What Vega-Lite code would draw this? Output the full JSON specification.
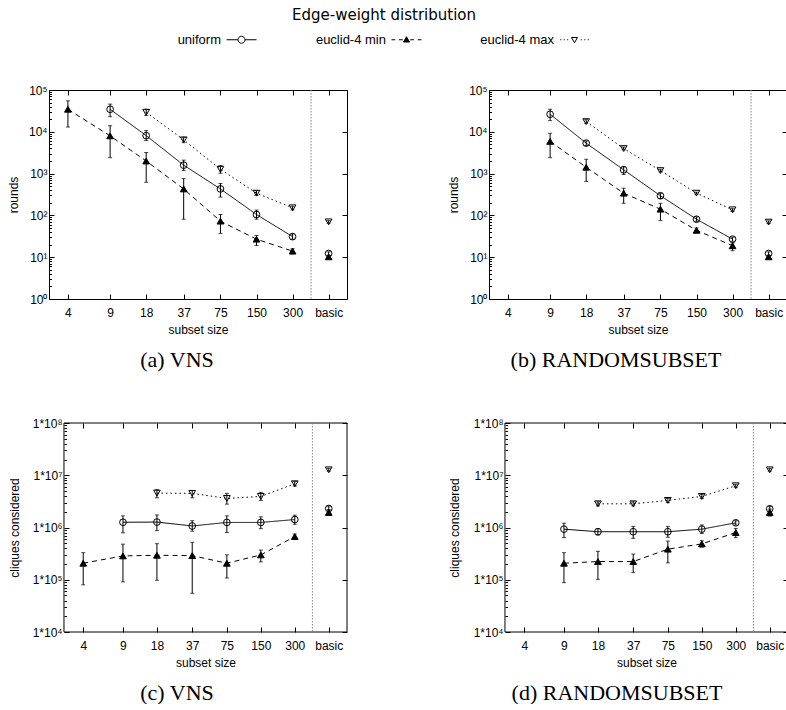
{
  "$schema": "https://vega.github.io/schema/vega-lite/v6.json",
  "padding": {"left": 6, "top": 8, "right": 0, "bottom": 0},
  "background": "white",
  "config": {
    "view": {"stroke": "black", "strokeWidth": 1},
    "font": "Liberation Sans",
    "axis": {"grid": false, "domain": false, "tickColor": "black", "labelColor": "black", "titleColor": "black", "labelFont": "Liberation Sans", "titleFont": "Liberation Sans", "labelFontSize": 12, "titleFontSize": 12, "titleFontWeight": "normal", "tickSize": -5, "labelFlush": false, "labelOverlap": false, "labelBound": false}
  },
  "datasets": {
    "pts": [
      {"p":"a","d":"uniform","s":9,"v":34600,"lo":23000,"hi":46000},
      {"p":"a","d":"uniform","s":18,"v":8100,"lo":6200,"hi":10700},
      {"p":"a","d":"uniform","s":37,"v":1590,"lo":1180,"hi":2100},
      {"p":"a","d":"uniform","s":75,"v":430,"lo":274,"hi":580},
      {"p":"a","d":"uniform","s":150,"v":105,"lo":81,"hi":134},
      {"p":"a","d":"uniform","s":300,"v":31,"lo":27,"hi":36},
      {"p":"a","d":"uniform","s":600,"v":12.3,"lo":11,"hi":13.5},
      {"p":"a","d":"euclid-4 min","s":4,"v":34600,"lo":13000,"hi":55000},
      {"p":"a","d":"euclid-4 min","s":9,"v":8000,"lo":2400,"hi":14000},
      {"p":"a","d":"euclid-4 min","s":18,"v":2000,"lo":620,"hi":3200},
      {"p":"a","d":"euclid-4 min","s":37,"v":430,"lo":81,"hi":760},
      {"p":"a","d":"euclid-4 min","s":75,"v":73,"lo":37,"hi":105},
      {"p":"a","d":"euclid-4 min","s":150,"v":27,"lo":19,"hi":33},
      {"p":"a","d":"euclid-4 min","s":300,"v":14,"lo":12,"hi":16},
      {"p":"a","d":"euclid-4 min","s":600,"v":10.2,"lo":9.5,"hi":11},
      {"p":"a","d":"euclid-4 max","s":18,"v":29300,"lo":24500,"hi":34600},
      {"p":"a","d":"euclid-4 max","s":37,"v":6400,"lo":5500,"hi":7400},
      {"p":"a","d":"euclid-4 max","s":75,"v":1270,"lo":1020,"hi":1560},
      {"p":"a","d":"euclid-4 max","s":150,"v":340,"lo":300,"hi":390},
      {"p":"a","d":"euclid-4 max","s":300,"v":152,"lo":135,"hi":165},
      {"p":"a","d":"euclid-4 max","s":600,"v":70,"lo":65,"hi":75},

      {"p":"b","d":"uniform","s":9,"v":26300,"lo":18500,"hi":34600},
      {"p":"b","d":"uniform","s":18,"v":5350,"lo":4700,"hi":6000},
      {"p":"b","d":"uniform","s":37,"v":1230,"lo":950,"hi":1480},
      {"p":"b","d":"uniform","s":75,"v":295,"lo":255,"hi":340},
      {"p":"b","d":"uniform","s":150,"v":81,"lo":72,"hi":92},
      {"p":"b","d":"uniform","s":300,"v":27,"lo":24,"hi":30},
      {"p":"b","d":"uniform","s":600,"v":12.3,"lo":11,"hi":13.5},
      {"p":"b","d":"euclid-4 min","s":9,"v":5900,"lo":2400,"hi":9200},
      {"p":"b","d":"euclid-4 min","s":18,"v":1420,"lo":650,"hi":2200},
      {"p":"b","d":"euclid-4 min","s":37,"v":340,"lo":195,"hi":447},
      {"p":"b","d":"euclid-4 min","s":75,"v":141,"lo":75,"hi":195},
      {"p":"b","d":"euclid-4 min","s":150,"v":44,"lo":39,"hi":50},
      {"p":"b","d":"euclid-4 min","s":300,"v":18.8,"lo":14.3,"hi":21.8},
      {"p":"b","d":"euclid-4 min","s":600,"v":10.2,"lo":9.5,"hi":11},
      {"p":"b","d":"euclid-4 max","s":18,"v":17500,"lo":16000,"hi":19500},
      {"p":"b","d":"euclid-4 max","s":37,"v":3970,"lo":3700,"hi":4300},
      {"p":"b","d":"euclid-4 max","s":75,"v":1180,"lo":1100,"hi":1270},
      {"p":"b","d":"euclid-4 max","s":150,"v":340,"lo":320,"hi":360},
      {"p":"b","d":"euclid-4 max","s":300,"v":136,"lo":125,"hi":145},
      {"p":"b","d":"euclid-4 max","s":600,"v":69,"lo":64,"hi":74},

      {"p":"c","d":"uniform","s":9,"v":1260000,"lo":790000,"hi":1670000},
      {"p":"c","d":"uniform","s":18,"v":1270000,"lo":870000,"hi":1740000},
      {"p":"c","d":"uniform","s":37,"v":1070000,"lo":850000,"hi":1350000},
      {"p":"c","d":"uniform","s":75,"v":1250000,"lo":800000,"hi":1670000},
      {"p":"c","d":"uniform","s":150,"v":1250000,"lo":950000,"hi":1600000},
      {"p":"c","d":"uniform","s":300,"v":1420000,"lo":1150000,"hi":1720000},
      {"p":"c","d":"uniform","s":600,"v":2310000,"lo":2100000,"hi":2550000},
      {"p":"c","d":"euclid-4 min","s":4,"v":207000,"lo":80000,"hi":330000},
      {"p":"c","d":"euclid-4 min","s":9,"v":286000,"lo":91000,"hi":480000},
      {"p":"c","d":"euclid-4 min","s":18,"v":294000,"lo":98000,"hi":490000},
      {"p":"c","d":"euclid-4 min","s":37,"v":290000,"lo":55000,"hi":520000},
      {"p":"c","d":"euclid-4 min","s":75,"v":207000,"lo":108000,"hi":300000},
      {"p":"c","d":"euclid-4 min","s":150,"v":299000,"lo":220000,"hi":370000},
      {"p":"c","d":"euclid-4 min","s":300,"v":670000,"lo":590000,"hi":750000},
      {"p":"c","d":"euclid-4 min","s":600,"v":1940000,"lo":1700000,"hi":2200000},
      {"p":"c","d":"euclid-4 max","s":18,"v":4550000,"lo":3700000,"hi":5300000},
      {"p":"c","d":"euclid-4 max","s":37,"v":4500000,"lo":3700000,"hi":5100000},
      {"p":"c","d":"euclid-4 max","s":75,"v":3600000,"lo":2800000,"hi":4500000},
      {"p":"c","d":"euclid-4 max","s":150,"v":3930000,"lo":3300000,"hi":4700000},
      {"p":"c","d":"euclid-4 max","s":300,"v":6870000,"lo":6200000,"hi":7600000},
      {"p":"c","d":"euclid-4 max","s":600,"v":12700000,"lo":12000000,"hi":13500000},

      {"p":"d","d":"uniform","s":9,"v":930000,"lo":640000,"hi":1210000},
      {"p":"d","d":"uniform","s":18,"v":830000,"lo":720000,"hi":950000},
      {"p":"d","d":"uniform","s":37,"v":830000,"lo":620000,"hi":1050000},
      {"p":"d","d":"uniform","s":75,"v":830000,"lo":650000,"hi":1050000},
      {"p":"d","d":"uniform","s":150,"v":930000,"lo":770000,"hi":1120000},
      {"p":"d","d":"uniform","s":300,"v":1230000,"lo":1120000,"hi":1350000},
      {"p":"d","d":"uniform","s":600,"v":2280000,"lo":2050000,"hi":2550000},
      {"p":"d","d":"euclid-4 min","s":9,"v":207000,"lo":88000,"hi":330000},
      {"p":"d","d":"euclid-4 min","s":18,"v":223000,"lo":102000,"hi":350000},
      {"p":"d","d":"euclid-4 min","s":37,"v":223000,"lo":137000,"hi":310000},
      {"p":"d","d":"euclid-4 min","s":75,"v":385000,"lo":210000,"hi":550000},
      {"p":"d","d":"euclid-4 min","s":150,"v":486000,"lo":420000,"hi":560000},
      {"p":"d","d":"euclid-4 min","s":300,"v":800000,"lo":640000,"hi":960000},
      {"p":"d","d":"euclid-4 min","s":600,"v":1940000,"lo":1650000,"hi":2250000},
      {"p":"d","d":"euclid-4 max","s":18,"v":2840000,"lo":2600000,"hi":3100000},
      {"p":"d","d":"euclid-4 max","s":37,"v":2840000,"lo":2600000,"hi":3100000},
      {"p":"d","d":"euclid-4 max","s":75,"v":3300000,"lo":3000000,"hi":3600000},
      {"p":"d","d":"euclid-4 max","s":150,"v":3930000,"lo":3600000,"hi":4300000},
      {"p":"d","d":"euclid-4 max","s":300,"v":6300000,"lo":5900000,"hi":6700000},
      {"p":"d","d":"euclid-4 max","s":600,"v":12700000,"lo":12000000,"hi":13500000}
    ]
  },
  "resolve": {"scale": {"x": "independent", "y": "independent", "shape": "independent", "fill": "independent", "strokeDash": "independent"}, "legend": {"shape": "independent", "fill": "independent", "strokeDash": "independent"}},
  "spacing": 32,
  "vconcat": [
    {
      "width": 300, "height": 28,
      "view": {"stroke": null},
      "title": {"text": "Edge-weight distribution", "anchor": "middle", "frame": "group", "dx": 185, "offset": 0, "font": "DejaVu Sans", "fontSize": 15, "fontWeight": "normal", "color": "black"},
      "data": {"values": [{"d": "uniform"}, {"d": "euclid-4 min"}, {"d": "euclid-4 max"}]},
      "mark": {"type": "point", "opacity": 0, "stroke": "black", "strokeWidth": 1},
      "encoding": {
        "shape": {"field": "d", "type": "nominal", "scale": {"domain": ["uniform", "euclid-4 min", "euclid-4 max"], "range": ["M-1,0H-0.233M0.233,0H1M0.233,0A0.233,0.233,0,1,1,-0.233,0A0.233,0.233,0,1,1,0.233,0", "M-1,0H-0.75M-0.5,0H-0.25M0.25,0H0.5M0.75,0H1M0,-0.2L0.2,0.15L-0.2,0.15Z", "M-0.95,0H-0.88M-0.72,0H-0.65M-0.49,0H-0.42M0.42,0H0.49M0.65,0H0.72M0.88,0H0.95M-0.2,-0.15L0.2,-0.15L0,0.2Z"]},
          "legend": {"title": null, "orient": "none", "legendX": 177, "legendY": 1, "direction": "horizontal", "labelFont": "Liberation Sans", "labelFontSize": 13, "labelColor": "black", "labelAlign": "right", "labelOffset": -36, "symbolSize": 900, "symbolStrokeWidth": 1, "symbolStrokeColor": "black", "symbolOpacity": 1, "columnPadding": 56,
            "encode": {"symbols": {"update": {"stroke": {"value": "black"}, "strokeWidth": {"value": 1}, "opacity": {"value": 1}, "strokeOpacity": {"value": 1}}}}}},
        "fill": {"field": "d", "type": "nominal", "scale": {"domain": ["uniform", "euclid-4 min", "euclid-4 max"], "range": ["transparent", "black", "transparent"]},
          "legend": {"title": null, "orient": "none", "legendX": 177, "legendY": 1, "direction": "horizontal", "labelFont": "Liberation Sans", "labelFontSize": 13, "labelColor": "black", "labelAlign": "right", "labelOffset": -36, "symbolSize": 900, "symbolStrokeWidth": 1, "symbolStrokeColor": "black", "symbolOpacity": 1, "columnPadding": 56,
            "encode": {"symbols": {"update": {"stroke": {"value": "black"}, "strokeWidth": {"value": 1}, "opacity": {"value": 1}, "strokeOpacity": {"value": 1}}}}}}
      }
    },
    {
      "spacing": 45,
      "columns": 1,
      "align": "none",
      "resolve": {"scale": {"x": "independent", "y": "independent"}},
      "concat": [
        {
          "spacing": 98,
          "hconcat": [
            {
              "width": 298, "height": 209,
              "data": {"name": "pts"},
              "transform": [{"filter": "datum.p == 'a'"}],
              "title": {"text": "(a) VNS", "orient": "bottom", "anchor": "middle", "frame": "group", "dx": -21, "offset": 15, "font": "Liberation Serif", "fontSize": 22, "fontWeight": "normal", "color": "black"},
              "layer": [
                {"mark": {"type": "rule", "color": "black", "strokeWidth": 1},
                 "encoding": {
                   "x": {"field": "s", "type": "quantitative", "scale": {"type": "log", "domain": [2.78, 854], "nice": false}, "axis": {"orient": "bottom", "values": [4, 9, 18, 37, 75, 150, 300, 600], "labelExpr": "datum.value == 600 ? 'basic' : format(datum.value, 'd')", "title": "subset size", "labelPadding": 13, "titlePadding": 6}},
                   "y": {"field": "lo", "type": "quantitative", "scale": {"type": "log", "domain": [1, 100000], "nice": false}, "axis": {"orient": "left", "values": [1, 10, 100, 1000, 10000, 100000], "labelExpr": "'10' + ['⁰','¹','²','³','⁴','⁵','⁶','⁷','⁸'][round(log(datum.value)/LN10)]", "title": "rounds", "titleX": -36, "titleBaseline": "middle", "labelPadding": 7}},
                   "y2": {"field": "hi"}}},
                {"data": {"values": [{"p": "a"}]},
                 "mark": {"type": "rule", "color": "#888", "strokeDash": [1.5, 1.5], "strokeWidth": 1},
                 "encoding": {"x": {"datum": 428, "type": "quantitative", "axis": null}}},
                {"mark": {"type": "tick", "orient": "horizontal", "size": 4, "thickness": 1, "color": "black"},
                 "encoding": {
                   "x": {"field": "s", "type": "quantitative", "axis": {"orient": "top", "values": [4, 9, 18, 37, 75, 150, 300, 600], "labels": false, "title": null}},
                   "y": {"field": "lo", "type": "quantitative", "axis": {"orient": "right", "values": [1, 10, 100, 1000, 10000, 100000], "labels": false, "title": null}}}},
                {"mark": {"type": "tick", "orient": "horizontal", "size": 4, "thickness": 1, "color": "black"},
                 "encoding": {
                   "x": {"field": "s", "type": "quantitative", "axis": null},
                   "y": {"field": "hi", "type": "quantitative", "axis": {"orient": "left", "values": [2,3,4,5,6,7,8,9,20,30,40,50,60,70,80,90,200,300,400,500,600,700,800,900,2000,3000,4000,5000,6000,7000,8000,9000,20000,30000,40000,50000,60000,70000,80000,90000], "labels": false, "title": null, "tickSize": -2.5}}}},
                {"transform": [{"filter": "datum.s < 500"}],
                 "mark": {"type": "line", "color": "black", "strokeWidth": 1},
                 "encoding": {
                   "x": {"field": "s", "type": "quantitative", "axis": null},
                   "y": {"field": "v", "type": "quantitative", "axis": null},
                   "strokeDash": {"field": "d", "type": "nominal", "scale": {"domain": ["uniform", "euclid-4 min", "euclid-4 max"], "range": [[1, 0], [5, 4], [1.5, 3]]}, "legend": null}}},
                {"mark": {"type": "point", "stroke": "black", "strokeWidth": 1, "size": 45, "opacity": 1},
                 "encoding": {
                   "x": {"field": "s", "type": "quantitative", "axis": null},
                   "y": {"field": "v", "type": "quantitative", "axis": null},
                   "shape": {"field": "d", "type": "nominal", "scale": {"domain": ["uniform", "euclid-4 min", "euclid-4 max"], "range": ["circle", "triangle-up", "triangle-down"]}, "legend": null},
                   "fill": {"field": "d", "type": "nominal", "scale": {"domain": ["uniform", "euclid-4 min", "euclid-4 max"], "range": ["transparent", "black", "transparent"]}, "legend": null}}}
              ]
            },
            {
              "width": 298, "height": 209,
              "data": {"name": "pts"},
              "transform": [{"filter": "datum.p == 'b'"}],
              "title": {"text": "(b) RANDOMSUBSET", "orient": "bottom", "anchor": "middle", "frame": "group", "dx": -22, "offset": 15, "font": "Liberation Serif", "fontSize": 22, "fontWeight": "normal", "color": "black"},
              "layer": [
                {"mark": {"type": "rule", "color": "black", "strokeWidth": 1},
                 "encoding": {
                   "x": {"field": "s", "type": "quantitative", "scale": {"type": "log", "domain": [2.78, 854], "nice": false}, "axis": {"orient": "bottom", "values": [4, 9, 18, 37, 75, 150, 300, 600], "labelExpr": "datum.value == 600 ? 'basic' : format(datum.value, 'd')", "title": "subset size", "labelPadding": 13, "titlePadding": 6}},
                   "y": {"field": "lo", "type": "quantitative", "scale": {"type": "log", "domain": [1, 100000], "nice": false}, "axis": {"orient": "left", "values": [1, 10, 100, 1000, 10000, 100000], "labelExpr": "'10' + ['⁰','¹','²','³','⁴','⁵','⁶','⁷','⁸'][round(log(datum.value)/LN10)]", "title": "rounds", "titleX": -36, "titleBaseline": "middle", "labelPadding": 7}},
                   "y2": {"field": "hi"}}},
                {"data": {"values": [{"p": "b"}]},
                 "mark": {"type": "rule", "color": "#888", "strokeDash": [1.5, 1.5], "strokeWidth": 1},
                 "encoding": {"x": {"datum": 428, "type": "quantitative", "axis": null}}},
                {"mark": {"type": "tick", "orient": "horizontal", "size": 4, "thickness": 1, "color": "black"},
                 "encoding": {
                   "x": {"field": "s", "type": "quantitative", "axis": {"orient": "top", "values": [4, 9, 18, 37, 75, 150, 300, 600], "labels": false, "title": null}},
                   "y": {"field": "lo", "type": "quantitative", "axis": {"orient": "right", "values": [1, 10, 100, 1000, 10000, 100000], "labels": false, "title": null}}}},
                {"mark": {"type": "tick", "orient": "horizontal", "size": 4, "thickness": 1, "color": "black"},
                 "encoding": {
                   "x": {"field": "s", "type": "quantitative", "axis": null},
                   "y": {"field": "hi", "type": "quantitative", "axis": {"orient": "left", "values": [2,3,4,5,6,7,8,9,20,30,40,50,60,70,80,90,200,300,400,500,600,700,800,900,2000,3000,4000,5000,6000,7000,8000,9000,20000,30000,40000,50000,60000,70000,80000,90000], "labels": false, "title": null, "tickSize": -2.5}}}},
                {"transform": [{"filter": "datum.s < 500"}],
                 "mark": {"type": "line", "color": "black", "strokeWidth": 1},
                 "encoding": {
                   "x": {"field": "s", "type": "quantitative", "axis": null},
                   "y": {"field": "v", "type": "quantitative", "axis": null},
                   "strokeDash": {"field": "d", "type": "nominal", "scale": {"domain": ["uniform", "euclid-4 min", "euclid-4 max"], "range": [[1, 0], [5, 4], [1.5, 3]]}, "legend": null}}},
                {"mark": {"type": "point", "stroke": "black", "strokeWidth": 1, "size": 45, "opacity": 1},
                 "encoding": {
                   "x": {"field": "s", "type": "quantitative", "axis": null},
                   "y": {"field": "v", "type": "quantitative", "axis": null},
                   "shape": {"field": "d", "type": "nominal", "scale": {"domain": ["uniform", "euclid-4 min", "euclid-4 max"], "range": ["circle", "triangle-up", "triangle-down"]}, "legend": null},
                   "fill": {"field": "d", "type": "nominal", "scale": {"domain": ["uniform", "euclid-4 min", "euclid-4 max"], "range": ["transparent", "black", "transparent"]}, "legend": null}}}
              ]
            }
          ]
        },
        {
          "spacing": 100,
          "hconcat": [
            {
              "width": 298, "height": 209,
              "view": {"stroke": null},
              "data": {"name": "pts"},
              "transform": [{"filter": "datum.p == 'c'"}],
              "title": {"text": "(c) VNS", "orient": "bottom", "anchor": "middle", "frame": "group", "dx": -21, "offset": 15, "font": "Liberation Serif", "fontSize": 22, "fontWeight": "normal", "color": "black"},
              "layer": [
                {"mark": {"type": "rule", "color": "black", "strokeWidth": 1},
                 "encoding": {
                   "x": {"field": "s", "type": "quantitative", "scale": {"type": "log", "domain": [1.989, 871], "nice": false}, "axis": {"orient": "bottom", "values": [4, 9, 18, 37, 75, 150, 300, 600], "labelExpr": "datum.value == 600 ? 'basic' : format(datum.value, 'd')", "title": "subset size", "titleX": 156.5, "labelPadding": 13, "titlePadding": 6}},
                   "y": {"field": "lo", "type": "quantitative", "scale": {"type": "log", "domain": [10000, 100000000], "nice": false}, "axis": {"orient": "left", "offset": -15, "values": [10000, 100000, 1000000, 10000000, 100000000], "labelExpr": "'1*10' + ['⁰','¹','²','³','⁴','⁵','⁶','⁷','⁸'][round(log(datum.value)/LN10)]", "title": "cliques considered", "titleX": -50, "titleBaseline": "middle", "labelPadding": 7}},
                   "y2": {"field": "hi"}}},
                {"data": {"values": [{"p": "c"}]},
                 "mark": {"type": "rect", "fill": "transparent", "stroke": "black", "strokeWidth": 1},
                 "encoding": {"x": {"datum": 2.7, "type": "quantitative", "axis": null}, "x2": {"datum": 871}, "y": {"datum": 10000, "type": "quantitative", "axis": null}, "y2": {"datum": 100000000}}},
                {"data": {"values": [{"p": "c"}]},
                 "mark": {"type": "rule", "color": "#888", "strokeDash": [1.5, 1.5], "strokeWidth": 1},
                 "encoding": {"x": {"datum": 430, "type": "quantitative", "axis": null}}},
                {"mark": {"type": "tick", "orient": "horizontal", "size": 4, "thickness": 1, "color": "black"},
                 "encoding": {
                   "x": {"field": "s", "type": "quantitative", "axis": {"orient": "top", "values": [4, 9, 18, 37, 75, 150, 300, 600], "labels": false, "title": null}},
                   "y": {"field": "lo", "type": "quantitative", "axis": {"orient": "right", "values": [10000, 100000, 1000000, 10000000, 100000000], "labels": false, "title": null}}}},
                {"mark": {"type": "tick", "orient": "horizontal", "size": 4, "thickness": 1, "color": "black"},
                 "encoding": {
                   "x": {"field": "s", "type": "quantitative", "axis": null},
                   "y": {"field": "hi", "type": "quantitative", "axis": {"orient": "left", "offset": -15, "values": [20000,30000,40000,50000,60000,70000,80000,90000,200000,300000,400000,500000,600000,700000,800000,900000,2000000,3000000,4000000,5000000,6000000,7000000,8000000,9000000,20000000,30000000,40000000,50000000,60000000,70000000,80000000,90000000], "labels": false, "title": null, "tickSize": -2.5}}}},
                {"transform": [{"filter": "datum.s < 500"}],
                 "mark": {"type": "line", "color": "black", "strokeWidth": 1},
                 "encoding": {
                   "x": {"field": "s", "type": "quantitative", "axis": null},
                   "y": {"field": "v", "type": "quantitative", "axis": null},
                   "strokeDash": {"field": "d", "type": "nominal", "scale": {"domain": ["uniform", "euclid-4 min", "euclid-4 max"], "range": [[1, 0], [5, 4], [1.5, 3]]}, "legend": null}}},
                {"mark": {"type": "point", "stroke": "black", "strokeWidth": 1, "size": 45, "opacity": 1},
                 "encoding": {
                   "x": {"field": "s", "type": "quantitative", "axis": null},
                   "y": {"field": "v", "type": "quantitative", "axis": null},
                   "shape": {"field": "d", "type": "nominal", "scale": {"domain": ["uniform", "euclid-4 min", "euclid-4 max"], "range": ["circle", "triangle-up", "triangle-down"]}, "legend": null},
                   "fill": {"field": "d", "type": "nominal", "scale": {"domain": ["uniform", "euclid-4 min", "euclid-4 max"], "range": ["transparent", "black", "transparent"]}, "legend": null}}}
              ]
            },
            {
              "width": 298, "height": 209,
              "view": {"stroke": null},
              "data": {"name": "pts"},
              "transform": [{"filter": "datum.p == 'd'"}],
              "title": {"text": "(d) RANDOMSUBSET", "orient": "bottom", "anchor": "middle", "frame": "group", "dx": -22, "offset": 15, "font": "Liberation Serif", "fontSize": 22, "fontWeight": "normal", "color": "black"},
              "layer": [
                {"mark": {"type": "rule", "color": "black", "strokeWidth": 1},
                 "encoding": {
                   "x": {"field": "s", "type": "quantitative", "scale": {"type": "log", "domain": [1.989, 871], "nice": false}, "axis": {"orient": "bottom", "values": [4, 9, 18, 37, 75, 150, 300, 600], "labelExpr": "datum.value == 600 ? 'basic' : format(datum.value, 'd')", "title": "subset size", "titleX": 156.5, "labelPadding": 13, "titlePadding": 6}},
                   "y": {"field": "lo", "type": "quantitative", "scale": {"type": "log", "domain": [10000, 100000000], "nice": false}, "axis": {"orient": "left", "offset": -15, "values": [10000, 100000, 1000000, 10000000, 100000000], "labelExpr": "'1*10' + ['⁰','¹','²','³','⁴','⁵','⁶','⁷','⁸'][round(log(datum.value)/LN10)]", "title": "cliques considered", "titleX": -51, "titleBaseline": "middle", "labelPadding": 7}},
                   "y2": {"field": "hi"}}},
                {"data": {"values": [{"p": "d"}]},
                 "mark": {"type": "rect", "fill": "transparent", "stroke": "black", "strokeWidth": 1},
                 "encoding": {"x": {"datum": 2.7, "type": "quantitative", "axis": null}, "x2": {"datum": 871}, "y": {"datum": 10000, "type": "quantitative", "axis": null}, "y2": {"datum": 100000000}}},
                {"data": {"values": [{"p": "d"}]},
                 "mark": {"type": "rule", "color": "#888", "strokeDash": [1.5, 1.5], "strokeWidth": 1},
                 "encoding": {"x": {"datum": 430, "type": "quantitative", "axis": null}}},
                {"mark": {"type": "tick", "orient": "horizontal", "size": 4, "thickness": 1, "color": "black"},
                 "encoding": {
                   "x": {"field": "s", "type": "quantitative", "axis": {"orient": "top", "values": [4, 9, 18, 37, 75, 150, 300, 600], "labels": false, "title": null}},
                   "y": {"field": "lo", "type": "quantitative", "axis": {"orient": "right", "values": [10000, 100000, 1000000, 10000000, 100000000], "labels": false, "title": null}}}},
                {"mark": {"type": "tick", "orient": "horizontal", "size": 4, "thickness": 1, "color": "black"},
                 "encoding": {
                   "x": {"field": "s", "type": "quantitative", "axis": null},
                   "y": {"field": "hi", "type": "quantitative", "axis": {"orient": "left", "offset": -15, "values": [20000,30000,40000,50000,60000,70000,80000,90000,200000,300000,400000,500000,600000,700000,800000,900000,2000000,3000000,4000000,5000000,6000000,7000000,8000000,9000000,20000000,30000000,40000000,50000000,60000000,70000000,80000000,90000000], "labels": false, "title": null, "tickSize": -2.5}}}},
                {"transform": [{"filter": "datum.s < 500"}],
                 "mark": {"type": "line", "color": "black", "strokeWidth": 1},
                 "encoding": {
                   "x": {"field": "s", "type": "quantitative", "axis": null},
                   "y": {"field": "v", "type": "quantitative", "axis": null},
                   "strokeDash": {"field": "d", "type": "nominal", "scale": {"domain": ["uniform", "euclid-4 min", "euclid-4 max"], "range": [[1, 0], [5, 4], [1.5, 3]]}, "legend": null}}},
                {"mark": {"type": "point", "stroke": "black", "strokeWidth": 1, "size": 45, "opacity": 1},
                 "encoding": {
                   "x": {"field": "s", "type": "quantitative", "axis": null},
                   "y": {"field": "v", "type": "quantitative", "axis": null},
                   "shape": {"field": "d", "type": "nominal", "scale": {"domain": ["uniform", "euclid-4 min", "euclid-4 max"], "range": ["circle", "triangle-up", "triangle-down"]}, "legend": null},
                   "fill": {"field": "d", "type": "nominal", "scale": {"domain": ["uniform", "euclid-4 min", "euclid-4 max"], "range": ["transparent", "black", "transparent"]}, "legend": null}}}
              ]
            }
          ]
        }
      ]
    }
  ]
}
